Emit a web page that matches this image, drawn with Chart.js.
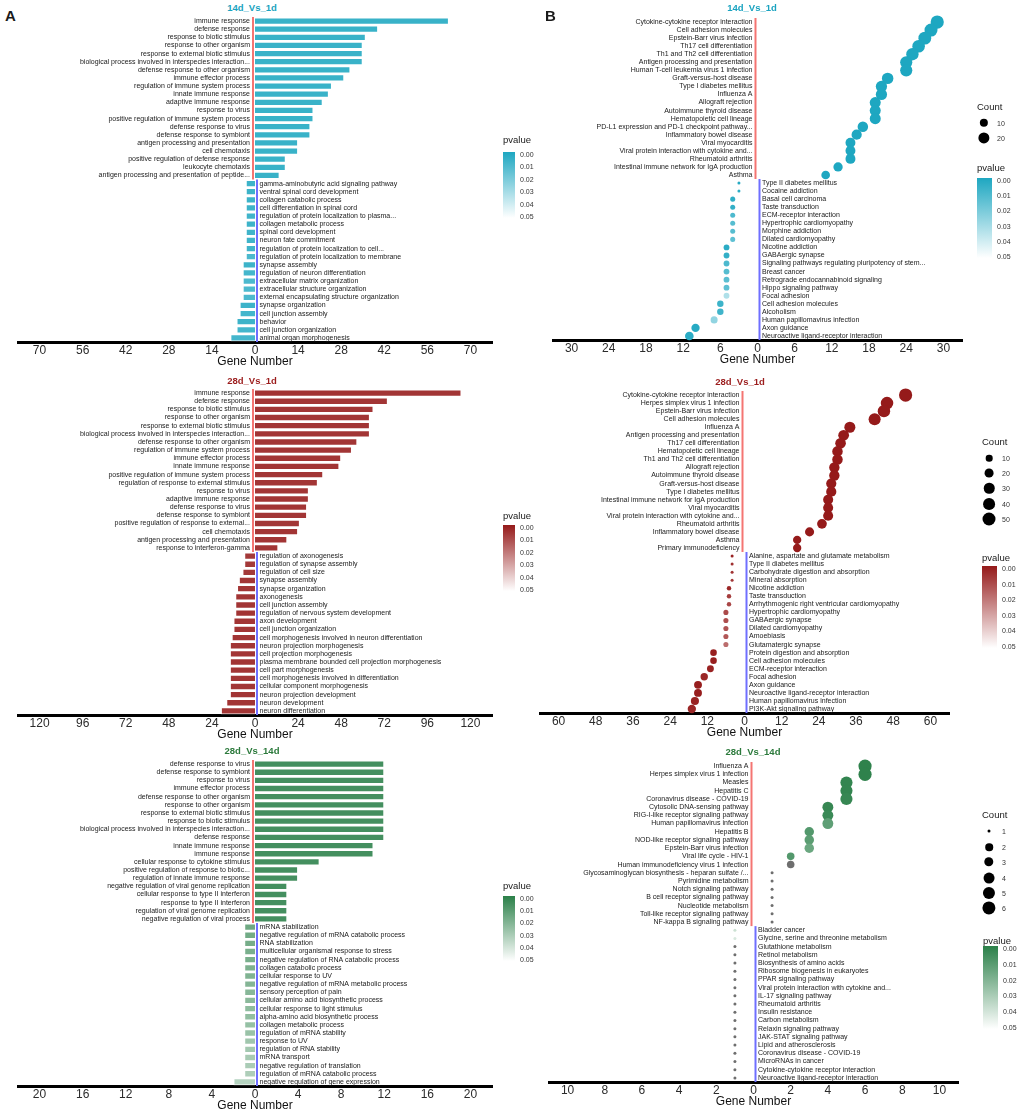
<!DOCTYPE html>
<html>
<head>
<meta charset="utf-8">
<script src="https://cdn.jsdelivr.net/npm/chart.js@4.4.0/dist/chart.umd.min.js"></script>
<style>
  html, body { margin: 0; padding: 0; background: #fff; overflow: hidden; }
  #fig { position: relative; width: 1021px; height: 1113px; font-family: "Liberation Sans", Arial, sans-serif; color: #1a1a1a; }
  #fig canvas { position: absolute; left: 0; top: 0; }
  .ttl { position: absolute; font-weight: bold; font-size: 9.5px; transform: translate(-50%, -50%); white-space: nowrap; }
  .panel { position: absolute; font-weight: bold; font-size: 15px; transform: translateY(-50%); }
  .lgt { position: absolute; font-size: 9.5px; transform: translateY(-50%); white-space: nowrap; }
  .lgv { position: absolute; font-size: 7px; transform: translateY(-50%); white-space: nowrap; color: #333; }
  .cbar { position: absolute; }
  .dot { position: absolute; border-radius: 50%; background: #000; transform: translate(-50%, -50%); }
</style>
</head>
<body>
<div id="fig"></div>
<script>
// ---------- A : GO enrichment, 14d_Vs_1d ----------
const a1UpTerms = ['immune response', 'defense response', 'response to biotic stimulus', 'response to other organism',
  'response to external biotic stimulus', 'biological process involved in interspecies interaction...',
  'defense response to other organism', 'immune effector process', 'regulation of immune system process',
  'innate immune response', 'adaptive immune response', 'response to virus',
  'positive regulation of immune system process', 'defense response to virus', 'defense response to symbiont',
  'antigen processing and presentation', 'cell chemotaxis', 'positive regulation of defense response',
  'leukocyte chemotaxis', 'antigen processing and presentation of peptide...'];
const a1UpCounts = [63, 40, 36, 35, 35, 35, 31, 29, 25, 24, 22, 19, 19, 18, 18, 14, 14, 10, 10, 8];
const a1UpP = [0, 0, 0, 0, 0, 0, 0, 0, 0, 0, 0, 0, 0, 0, 0, 0, 0, 0, 0, 0];
const a1DownTerms = ['gamma-aminobutyric acid signaling pathway', 'ventral spinal cord development',
  'collagen catabolic process', 'cell differentiation in spinal cord', 'regulation of protein localization to plasma...',
  'collagen metabolic process', 'spinal cord development', 'neuron fate commitment',
  'regulation of protein localization to cell...', 'regulation of protein localization to membrane',
  'synapse assembly', 'regulation of neuron differentiation', 'extracellular matrix organization',
  'extracellular structure organization', 'external encapsulating structure organization',
  'synapse organization', 'cell junction assembly', 'behavior', 'cell junction organization',
  'animal organ morphogenesis'];
const a1DownCounts = [3, 3, 3, 3, 3, 3, 3, 3, 3, 3, 4, 4, 4, 4, 4, 5, 5, 6, 6, 8];
const a1DownP = [0.001, 0.001, 0.001, 0.001, 0.002, 0.001, 0.002, 0.002, 0.002, 0.005, 0.001, 0.003, 0.005, 0.005,
  0.005, 0.001, 0.003, 0.001, 0.003, 0.003];
const a1Ticks = [-70, -56, -42, -28, -14, 0, 14, 28, 42, 56, 70];

// ---------- A : 28d_Vs_1d ----------
const a2UpTerms = ['immune response', 'defense response', 'response to biotic stimulus', 'response to other organism',
  'response to external biotic stimulus', 'biological process involved in interspecies interaction...',
  'defense response to other organism', 'regulation of immune system process', 'immune effector process',
  'innate immune response', 'positive regulation of immune system process',
  'regulation of response to external stimulus', 'response to virus', 'adaptive immune response',
  'defense response to virus', 'defense response to symbiont', 'positive regulation of response to external...',
  'cell chemotaxis', 'antigen processing and presentation', 'response to interferon-gamma'];
const a2UpCounts = [115, 74, 66, 64, 64, 64, 57, 54, 48, 47, 38, 35, 30, 30, 29, 29, 25, 24, 18, 13];
const a2UpP = [0, 0, 0, 0, 0, 0, 0, 0, 0, 0, 0, 0, 0, 0, 0, 0, 0, 0, 0, 0];
const a2DownTerms = ['regulation of axonogenesis', 'regulation of synapse assembly', 'regulation of cell size',
  'synapse assembly', 'synapse organization', 'axonogenesis', 'cell junction assembly',
  'regulation of nervous system development', 'axon development', 'cell junction organization',
  'cell morphogenesis involved in neuron differentiation', 'neuron projection morphogenesis',
  'cell projection morphogenesis', 'plasma membrane bounded cell projection morphogenesis',
  'cell part morphogenesis', 'cell morphogenesis involved in differentiation', 'cellular component morphogenesis',
  'neuron projection development', 'neuron development', 'neuron differentiation'];
const a2DownCounts = [6, 6, 7, 9, 10, 11, 11, 11, 12, 12, 13, 14, 14, 14, 14, 14, 14, 14, 16, 19];
const a2DownP = [0.001, 0.001, 0.001, 0, 0, 0, 0, 0, 0, 0, 0, 0, 0, 0, 0, 0, 0, 0, 0, 0];
const a2Ticks = [-120, -96, -72, -48, -24, 0, 24, 48, 72, 96, 120];

// ---------- A : 28d_Vs_14d ----------
const a3UpTerms = ['defense response to virus', 'defense response to symbiont', 'response to virus',
  'immune effector process', 'defense response to other organism', 'response to other organism',
  'response to external biotic stimulus', 'response to biotic stimulus',
  'biological process involved in interspecies interaction...', 'defense response', 'innate immune response',
  'immune response', 'cellular response to cytokine stimulus', 'positive regulation of response to biotic...',
  'regulation of innate immune response', 'negative regulation of viral genome replication',
  'cellular response to type II interferon', 'response to type II interferon',
  'regulation of viral genome replication', 'negative regulation of viral process'];
const a3UpCounts = [12, 12, 12, 12, 12, 12, 12, 12, 12, 12, 11, 11, 6, 4, 4, 3, 3, 3, 3, 3];
const a3UpP = [0, 0, 0, 0, 0, 0, 0, 0, 0, 0, 0, 0, 0, 0, 0, 0, 0, 0, 0, 0];
const a3DownTerms = ['mRNA stabilization', 'negative regulation of mRNA catabolic process', 'RNA stabilization',
  'multicellular organismal response to stress', 'negative regulation of RNA catabolic process',
  'collagen catabolic process', 'cellular response to UV', 'negative regulation of mRNA metabolic process',
  'sensory perception of pain', 'cellular amino acid biosynthetic process', 'cellular response to light stimulus',
  'alpha-amino acid biosynthetic process', 'collagen metabolic process', 'regulation of mRNA stability',
  'response to UV', 'regulation of RNA stability', 'mRNA transport', 'negative regulation of translation',
  'regulation of mRNA catabolic process', 'negative regulation of gene expression'];
const a3DownCounts = [1, 1, 1, 1, 1, 1, 1, 1, 1, 1, 1, 1, 1, 1, 1, 1, 1, 1, 1, 2];
const a3DownP = [0.012, 0.013, 0.014, 0.015, 0.015, 0.016, 0.017, 0.018, 0.019, 0.020, 0.021, 0.022, 0.023,
  0.024, 0.026, 0.027, 0.028, 0.029, 0.030, 0.032];
const a3Ticks = [-20, -16, -12, -8, -4, 0, 4, 8, 12, 16, 20];

// ---------- B : KEGG enrichment, 14d_Vs_1d ----------
const b1UpTerms = ['Cytokine-cytokine receptor interaction', 'Cell adhesion molecules', 'Epstein-Barr virus infection',
  'Th17 cell differentiation', 'Th1 and Th2 cell differentiation', 'Antigen processing and presentation',
  'Human T-cell leukemia virus 1 infection', 'Graft-versus-host disease', 'Type I diabetes mellitus', 'Influenza A',
  'Allograft rejection', 'Autoimmune thyroid disease', 'Hematopoietic cell lineage',
  'PD-L1 expression and PD-1 checkpoint pathway...', 'Inflammatory bowel disease', 'Viral myocarditis',
  'Viral protein interaction with cytokine and...', 'Rheumatoid arthritis',
  'Intestinal immune network for IgA production', 'Asthma'];
const b1UpCounts = [29, 28, 27, 26, 25, 24, 24, 21, 20, 20, 19, 19, 19, 17, 16, 15, 15, 15, 13, 11];
const b1UpP = [0, 0, 0, 0, 0, 0, 0, 0, 0, 0, 0, 0, 0, 0, 0, 0, 0, 0, 0, 0];
const b1DownTerms = ['Type II diabetes mellitus', 'Cocaine addiction', 'Basal cell carcinoma', 'Taste transduction',
  'ECM-receptor interaction', 'Hypertrophic cardiomyopathy', 'Morphine addiction', 'Dilated cardiomyopathy',
  'Nicotine addiction', 'GABAergic synapse', 'Signaling pathways regulating pluripotency of stem...',
  'Breast cancer', 'Retrograde endocannabinoid signaling', 'Hippo signaling pathway', 'Focal adhesion',
  'Cell adhesion molecules', 'Alcoholism', 'Human papillomavirus infection', 'Axon guidance',
  'Neuroactive ligand-receptor interaction'];
const b1DownCounts = [3, 3, 4, 4, 4, 4, 4, 4, 5, 5, 5, 5, 5, 5, 5, 6, 6, 7, 10, 11];
const b1DownP = [0.002, 0.003, 0.004, 0.005, 0.011, 0.013, 0.013, 0.015, 0.003, 0.005, 0.011, 0.013, 0.014,
  0.015, 0.034, 0.007, 0.008, 0.027, 0.002, 0.003];
const b1Ticks = [-30, -24, -18, -12, -6, 0, 6, 12, 18, 24, 30];
const b1CountKeys = [10, 20];

// ---------- B : 28d_Vs_1d ----------
const b2UpTerms = ['Cytokine-cytokine receptor interaction', 'Herpes simplex virus 1 infection',
  'Epstein-Barr virus infection', 'Cell adhesion molecules', 'Influenza A', 'Antigen processing and presentation',
  'Th17 cell differentiation', 'Hematopoietic cell lineage', 'Th1 and Th2 cell differentiation',
  'Allograft rejection', 'Autoimmune thyroid disease', 'Graft-versus-host disease', 'Type I diabetes mellitus',
  'Intestinal immune network for IgA production', 'Viral myocarditis', 'Viral protein interaction with cytokine and...',
  'Rheumatoid arthritis', 'Inflammatory bowel disease', 'Asthma', 'Primary immunodeficiency'];
const b2UpCounts = [52, 46, 45, 42, 34, 32, 31, 30, 30, 29, 29, 28, 28, 27, 27, 27, 25, 21, 17, 17];
const b2UpP = [0, 0, 0, 0, 0, 0, 0, 0, 0, 0, 0, 0, 0, 0, 0, 0, 0, 0, 0, 0];
const b2DownTerms = ['Alanine, aspartate and glutamate metabolism', 'Type II diabetes mellitus',
  'Carbohydrate digestion and absorption', 'Mineral absorption', 'Nicotine addiction', 'Taste transduction',
  'Arrhythmogenic right ventricular cardiomyopathy', 'Hypertrophic cardiomyopathy', 'GABAergic synapse',
  'Dilated cardiomyopathy', 'Amoebiasis', 'Glutamatergic synapse', 'Protein digestion and absorption',
  'Cell adhesion molecules', 'ECM-receptor interaction', 'Focal adhesion', 'Axon guidance',
  'Neuroactive ligand-receptor interaction', 'Human papillomavirus infection', 'PI3K-Akt signaling pathway'];
const b2DownCounts = [4, 4, 4, 4, 5, 5, 5, 6, 6, 6, 6, 6, 10, 10, 11, 13, 15, 15, 16, 17];
const b2DownP = [0.002, 0.005, 0.006, 0.007, 0.003, 0.008, 0.010, 0.011, 0.012, 0.013, 0.014, 0.019, 0.001,
  0.001, 0.002, 0.003, 0.001, 0.001, 0.002, 0.003];
const b2Ticks = [-60, -48, -36, -24, -12, 0, 12, 24, 36, 48, 60];
const b2CountKeys = [10, 20, 30, 40, 50];

// ---------- B : 28d_Vs_14d ----------
const b3UpTerms = ['Influenza A', 'Herpes simplex virus 1 infection', 'Measles', 'Hepatitis C',
  'Coronavirus disease - COVID-19', 'Cytosolic DNA-sensing pathway', 'RIG-I-like receptor signaling pathway',
  'Human papillomavirus infection', 'Hepatitis B', 'NOD-like receptor signaling pathway',
  'Epstein-Barr virus infection', 'Viral life cycle - HIV-1', 'Human immunodeficiency virus 1 infection',
  'Glycosaminoglycan biosynthesis - heparan sulfate /...', 'Pyrimidine metabolism', 'Notch signaling pathway',
  'B cell receptor signaling pathway', 'Nucleotide metabolism', 'Toll-like receptor signaling pathway',
  'NF-kappa B signaling pathway'];
const b3UpCounts = [6, 6, 5, 5, 5, 4, 4, 4, 3, 3, 3, 2, 2, 1, 1, 1, 1, 1, 1, 1];
const b3UpP = [0.001, 0.001, 0.002, 0.002, 0.003, 0.003, 0.004, 0.013, 0.010, 0.012, 0.016, 0.010, 0.06,
  0.07, 0.07, 0.08, 0.08, 0.09, 0.09, 0.10];
const b3DownTerms = ['Bladder cancer', 'Glycine, serine and threonine metabolism', 'Glutathione metabolism',
  'Retinol metabolism', 'Biosynthesis of amino acids', 'Ribosome biogenesis in eukaryotes', 'PPAR signaling pathway',
  'Viral protein interaction with cytokine and...', 'IL-17 signaling pathway', 'Rheumatoid arthritis',
  'Insulin resistance', 'Carbon metabolism', 'Relaxin signaling pathway', 'JAK-STAT signaling pathway',
  'Lipid and atherosclerosis', 'Coronavirus disease - COVID-19', 'MicroRNAs in cancer',
  'Cytokine-cytokine receptor interaction', 'Neuroactive ligand-receptor interaction'];
const b3DownCounts = [1, 1, 1, 1, 1, 1, 1, 1, 1, 1, 1, 1, 1, 1, 1, 1, 1, 1, 1];
const b3DownP = [0.040, 0.043, 0.06, 0.06, 0.07, 0.07, 0.07, 0.08, 0.08, 0.08, 0.09, 0.09, 0.09, 0.10, 0.10,
  0.10, 0.11, 0.11, 0.12];
const b3Ticks = [-10, -8, -6, -4, -2, 0, 2, 4, 6, 8, 10];
const b3CountKeys = [1, 2, 3, 4, 5, 6];

const pTickLabels = ['0.00', '0.01', '0.02', '0.03', '0.04', '0.05'];

// ---------- helpers ----------
const W = 1021, H = 1113, AXIS_H = 26;
const FONT = '"Liberation Sans", Arial, sans-serif';
const fig = document.getElementById('fig');

function mixWhite(hex, t) {
  const n = parseInt(hex.slice(1), 16);
  const f = c => Math.round(c + (255 - c) * t);
  return `rgb(${f((n >> 16) & 255)},${f((n >> 8) & 255)},${f(n & 255)})`;
}
// lift: how much lighter the mark is than the legend's dark end
function pColor(base, p, lift) {
  if (p > 0.05) return '#6e6e6e';   // not significant -> grey
  return mixWhite(base, lift + (p / 0.05) * (0.95 - lift));
}
function sizeFn(counts) {
  const lo = Math.min(...counts), hi = Math.max(...counts);
  return c => 1.5 + 5.1 * Math.sqrt(Math.max(0, c - lo) / (hi - lo));
}

function addCanvas() {
  const c = document.createElement('canvas');
  c.width = W; c.height = H;
  c.style.width = W + 'px'; c.style.height = H + 'px';
  fig.appendChild(c);
  return c;
}
function addDiv(cls, text, css) {
  const d = document.createElement('div');
  d.className = cls;
  if (text !== null) d.textContent = text;
  Object.assign(d.style, css);
  fig.appendChild(d);
  return d;
}

// terms beside the zero line + the red / blue separators
const sideLabels = {
  id: 'sideLabels',
  afterDatasetsDraw(chart, args, opts) {
    const { ctx } = chart;
    const xs = chart.scales.x, ys = chart.scales.y;
    const x0 = xs.getPixelForValue(0);
    const band = Math.abs(ys.getPixelForValue(1) - ys.getPixelForValue(0));
    const n = opts.labels.length;
    const yA = ys.getPixelForValue(0) - band / 2;
    const yB = ys.getPixelForValue(opts.nUp) - band / 2;
    const yC = ys.getPixelForValue(n - 1) + band / 2;
    ctx.save();
    ctx.lineWidth = 2;
    ctx.strokeStyle = '#f47572';
    ctx.beginPath(); ctx.moveTo(x0 - 2, yA); ctx.lineTo(x0 - 2, yB); ctx.stroke();
    ctx.strokeStyle = '#6f6fff';
    ctx.beginPath(); ctx.moveTo(x0 + 2, yB); ctx.lineTo(x0 + 2, yC); ctx.stroke();
    ctx.font = '7px ' + FONT;
    ctx.fillStyle = '#1a1a1a';
    ctx.textBaseline = 'middle';
    opts.labels.forEach((t, i) => {
      const y = ys.getPixelForValue(i);
      if (i < opts.nUp) { ctx.textAlign = 'right'; ctx.fillText(t, x0 - 5, y); }
      else { ctx.textAlign = 'left'; ctx.fillText(t, x0 + 4.5, y); }
    });
    ctx.restore();
  }
};

function xAxis(lim, ticks) {
  return {
    type: 'linear', min: -lim, max: lim,
    afterBuildTicks: s => { s.ticks = ticks.map(v => ({ value: v })); },
    afterFit: s => { s.height = AXIS_H; },
    grid: { display: false, drawTicks: false },
    border: { display: true, color: '#000', width: 3 },
    ticks: { padding: 1, color: '#2b2b2b', font: { family: FONT, size: 12 }, callback: v => String(Math.abs(v)) },
    title: { display: true, text: 'Gene Number', color: '#111', padding: 0, font: { family: FONT, size: 12, lineHeight: 1 } }
  };
}
function baseOptions(box) {
  return {
    responsive: false, animation: false, events: [],
    layout: { padding: { left: box.x0, right: W - box.x1, top: box.y0, bottom: H - box.y1 - AXIS_H } }
  };
}

function barPanel(box, lim, ticks, upT, upC, upP, dnT, dnC, dnP, base) {
  const labels = upT.concat(dnT);
  const vals = upC.concat(dnC.map(v => -v));
  const ps = upP.concat(dnP);
  new Chart(addCanvas(), {
    type: 'bar',
    data: {
      labels,
      datasets: [{
        data: vals,
        backgroundColor: ps.map(p => pColor(base, p, 0.12)),
        borderColor: 'rgba(255,255,255,0.55)', borderWidth: 1,
        barPercentage: 0.9, categoryPercentage: 1
      }]
    },
    options: Object.assign(baseOptions(box), {
      indexAxis: 'y',
      scales: { x: xAxis(lim, ticks), y: { display: false } },
      plugins: { legend: { display: false }, tooltip: { enabled: false }, sideLabels: { labels, nUp: upT.length } }
    }),
    plugins: [sideLabels]
  });
}

function dotPanel(box, lim, ticks, upT, upC, upP, dnT, dnC, dnP, base, size) {
  const labels = upT.concat(dnT);
  const counts = upC.concat(dnC);
  const ps = upP.concat(dnP);
  const pts = counts.map((c, i) => ({ x: i < upT.length ? c : -c, y: i, r: size(c) }));
  new Chart(addCanvas(), {
    type: 'bubble',
    data: { datasets: [{ data: pts, backgroundColor: ps.map(p => pColor(base, p, 0)), borderWidth: 0 }] },
    options: Object.assign(baseOptions(box), {
      clip: false,
      scales: {
        x: xAxis(lim, ticks),
        y: { type: 'linear', display: false, reverse: true, min: -0.5, max: labels.length - 0.5 }
      },
      plugins: { legend: { display: false }, tooltip: { enabled: false }, sideLabels: { labels, nUp: upT.length } }
    }),
    plugins: [sideLabels]
  });
}

function pLegend(x, yTitle, w, y0, y1, base) {
  addDiv('lgt', 'pvalue', { left: x + 'px', top: yTitle + 'px' });
  addDiv('cbar', null, {
    left: x + 'px', top: (y0 - 2) + 'px', width: w + 'px', height: (y1 - y0 + 4) + 'px',
    background: `linear-gradient(to bottom, ${base}, #ffffff)`
  });
  pTickLabels.forEach((t, i) => {
    addDiv('lgv', t, { left: (x + w + 5) + 'px', top: (y0 + (y1 - y0) * i / 5) + 'px' });
  });
}
function countLegend(x, yTitle, ys, keys, size) {
  addDiv('lgt', 'Count', { left: x + 'px', top: yTitle + 'px' });
  keys.forEach((k, i) => {
    const r = size(k);
    addDiv('dot', null, { left: (x + 7) + 'px', top: ys[i] + 'px', width: 2 * r + 'px', height: 2 * r + 'px' });
    addDiv('lgv', String(k), { left: (x + 20) + 'px', top: ys[i] + 'px' });
  });
}

// ---------- colours ----------
const teal = '#1ea7c1', red = '#951a1a', green = '#2b8049';

// ---------- panel A ----------
addDiv('panel', 'A', { left: '5px', top: '15px' });
addDiv('ttl', '14d_Vs_1d', { left: '252px', top: '7px', color: '#1aa3c0' });
barPanel({ x0: 18, x1: 492, y0: 17, y1: 342 }, 77, a1Ticks, a1UpTerms, a1UpCounts, a1UpP,
  a1DownTerms, a1DownCounts, a1DownP, teal);
pLegend(503, 139, 12, 154, 216, teal);

addDiv('ttl', '28d_Vs_1d', { left: '252px', top: '380px', color: '#9b1c1c' });
barPanel({ x0: 18, x1: 492, y0: 389, y1: 715 }, 132, a2Ticks, a2UpTerms, a2UpCounts, a2UpP,
  a2DownTerms, a2DownCounts, a2DownP, red);
pLegend(503, 515, 12, 527, 589, red);

addDiv('ttl', '28d_Vs_14d', { left: '252px', top: '750px', color: '#2c7a3c' });
barPanel({ x0: 18, x1: 492, y0: 760, y1: 1086 }, 22, a3Ticks, a3UpTerms, a3UpCounts, a3UpP,
  a3DownTerms, a3DownCounts, a3DownP, green);
pLegend(503, 885, 12, 898, 959, green);

// ---------- panel B ----------
addDiv('panel', 'B', { left: '545px', top: '15px' });
const b1Size = sizeFn(b1UpCounts.concat(b1DownCounts));
addDiv('ttl', '14d_Vs_1d', { left: '752px', top: '7px', color: '#1aa3c0' });
dotPanel({ x0: 553, x1: 962, y0: 18, y1: 340 }, 33, b1Ticks, b1UpTerms, b1UpCounts, b1UpP,
  b1DownTerms, b1DownCounts, b1DownP, teal, b1Size);
countLegend(977, 106, [123, 138], b1CountKeys, b1Size);
pLegend(977, 167, 15, 180, 256, teal);

const b2Size = sizeFn(b2UpCounts.concat(b2DownCounts));
addDiv('ttl', '28d_Vs_1d', { left: '740px', top: '381px', color: '#9b1c1c' });
dotPanel({ x0: 540, x1: 949, y0: 391, y1: 713 }, 66, b2Ticks, b2UpTerms, b2UpCounts, b2UpP,
  b2DownTerms, b2DownCounts, b2DownP, red, b2Size);
countLegend(982, 441, [458, 473, 488, 504, 519], b2CountKeys, b2Size);
pLegend(982, 557, 15, 568, 646, red);

const b3Size = sizeFn(b3UpCounts.concat(b3DownCounts));
addDiv('ttl', '28d_Vs_14d', { left: '753px', top: '751px', color: '#2c7a3c' });
dotPanel({ x0: 549, x1: 958, y0: 762, y1: 1082 }, 11, b3Ticks, b3UpTerms, b3UpCounts, b3UpP,
  b3DownTerms, b3DownCounts, b3DownP, green, b3Size);
countLegend(982, 814, [831, 847, 862, 878, 893, 908], b3CountKeys, b3Size);
pLegend(983, 940, 15, 948, 1027, green);
</script>
</body>
</html>
